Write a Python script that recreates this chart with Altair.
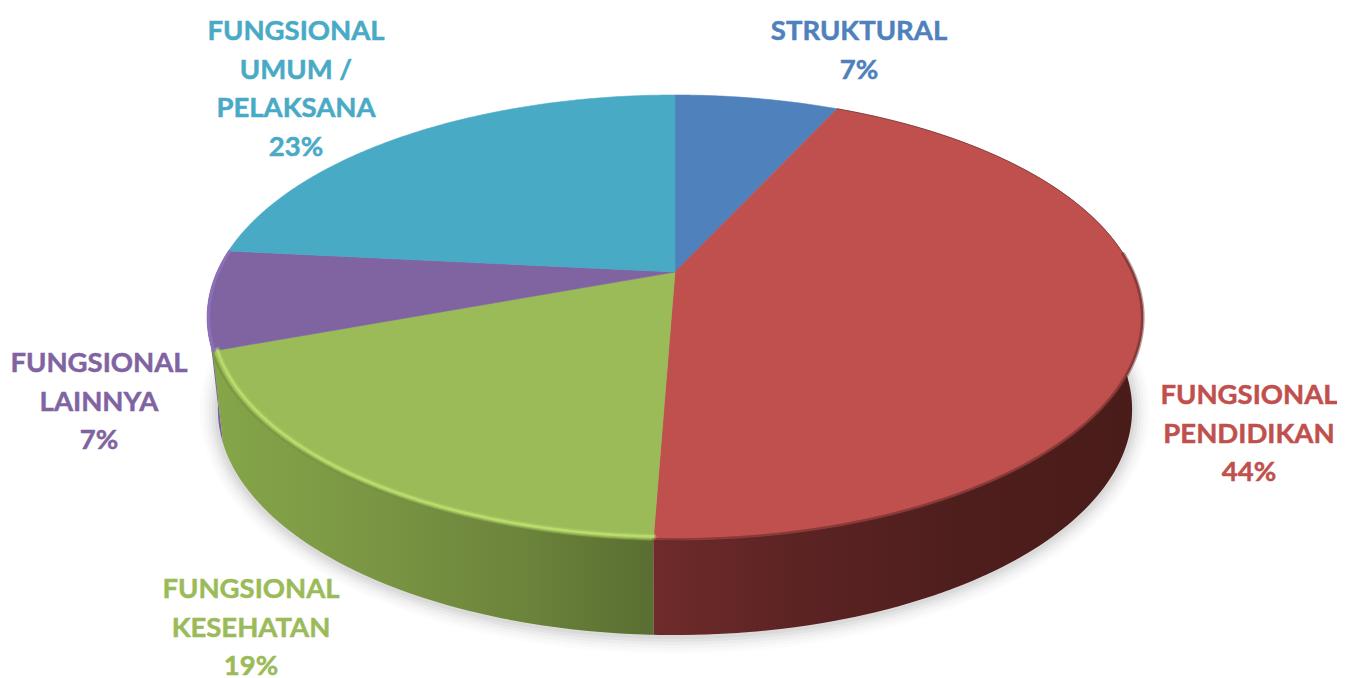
import math
import altair as alt
import pandas as pd

# ---- values
categories = ["STRUKTURAL", "FUNGSIONAL\nPENDIDIKAN", "FUNGSIONAL\nKESEHATAN",
              "FUNGSIONAL\nLAINNYA", "FUNGSIONAL\nUMUM /\nPELAKSANA"]
percent_labels = [7, 44, 19, 7, 23]
drawn_shares = [6.9, 43.7, 18.8, 7.2, 23.4]
top_colors = ["#4f81bd", "#bf504d", "#9bbb59", "#8064a2", "#49aac5"]

# ---- layout of the tilted disc (pixels inside the plot area)
W, H = 1329, 669
CX, APEX_Y = 667.0, 264.0
K, A, B = 0.2045, 213.2, 458.0
ELL_CY, ELL_RY = 309.0, 222.0
LOW_CY, LOW_RY, LOW_SX = 401.0, 225.0, 0.977
label_x = [851, 1241, 243, 91, 288]
label_y = [10, 374, 568, 342, 10]
FONT = "Lato"
FONT_SIZE = 27.5
LINE_H = 38.7


def top_pt(theta, r=1.0):
    X, Y = r * math.sin(theta), r * math.cos(theta)
    w = 1 + K * Y
    return [CX + B * X / w, APEX_Y - A * Y / w]


def low_pt(theta):
    x, y = top_pt(theta)
    return [CX + LOW_SX * (x - CX), LOW_CY + (y - ELL_CY) * LOW_RY / ELL_RY]


def arc(a0, a1, fn, **kw):
    n = max(2, int(abs(a1 - a0) / math.radians(0.5)))
    return [fn(a0 + (a1 - a0) * i / n, **kw) for i in range(n + 1)]


def feature(geom_type, coords, name=""):
    return {"type": "Feature", "properties": {"name": name},
            "geometry": {"type": geom_type, "coordinates": coords}}


def inline(features):
    return alt.InlineData(values={"type": "FeatureCollection", "features": features},
                          format=alt.DataFormat(property="features", type="json"))


proj = alt.Projection(type="identity", scale=1, translate=[0, 0])

edges = [0.0]
for s in drawn_shares:
    edges.append(edges[-1] + s / 100 * 2 * math.pi)


def shape(features, **mark):
    return alt.Chart(inline(features)).mark_geoshape(**mark).properties(projection=proj)


def wall(i):
    # swept band between the top rim and the lower rim, so the silhouette is a straight tangent
    a0, a1 = edges[i], edges[i + 1]
    tops, lows = arc(a0, a1, top_pt), arc(a0, a1, low_pt)
    quads = []
    for j in range(len(tops) - 1):
        k = min(j + 3, len(tops) - 1)
        quads.append([[tops[j], tops[k], lows[k], lows[j], tops[j]]])
    return feature("MultiPolygon", quads, categories[i])


def grad(stops):
    return alt.LinearGradient(gradient="linear", x1=0, x2=1, y1=0, y2=0,
                              stops=[alt.GradientStop(offset=o, color=c) for o, c in stops])


layers = []

# soft shadow under the disc
for d, op in [(18, 0.012), (15, 0.016), (12, 0.02), (9, 0.028), (6, 0.035), (3, 0.04)]:
    ring = []
    for i in range(361):
        t = math.radians(i)
        ring.append([CX + (LOW_SX * 468 + d) * math.sin(t),
                     LOW_CY + 2 + (LOW_RY + d) * math.cos(t)])
    layers.append(shape([feature("Polygon", [ring])], fill="#000000", fillOpacity=op, strokeWidth=0))

# side walls
layers.append(shape([wall(3)], fill="#7a5ea2", strokeWidth=0))
layers.append(shape([wall(2)], strokeWidth=0, fill=grad(
    [(0, "#85a648"), (0.35, "#7b9644"), (0.7, "#6c843b"), (1, "#596e31")])))
layers.append(shape([wall(1)], strokeWidth=0, fill=grad(
    [(0, "#6f2b2b"), (0.3, "#5c2323"), (0.65, "#4d1e1c"), (1, "#4a1c19")])))

# top slices
slices = []
for i in range(len(categories)):
    ring = [[CX, APEX_Y]] + arc(edges[i], edges[i + 1], top_pt) + [[CX, APEX_Y]]
    slices.append(feature("Polygon", [ring], categories[i]))
layers.append(
    alt.Chart(inline(slices)).mark_geoshape(strokeWidth=0.6).encode(
        color=alt.Color("properties.name:N",
                        scale=alt.Scale(domain=categories, range=top_colors), legend=None),
        stroke=alt.Stroke("properties.name:N",
                          scale=alt.Scale(domain=categories, range=top_colors), legend=None),
    ).properties(projection=proj)
)


def rim(i, r, color, width, opacity=1.0, start=None, end=None):
    a0 = edges[i] if start is None else start
    a1 = edges[i + 1] if end is None else end
    return shape([feature("LineString", arc(a0, a1, top_pt, r=r))], filled=False,
                 stroke=color, strokeWidth=width, strokeOpacity=opacity, strokeCap="round")


# bevel along the front rim
layers += [
    rim(1, 1.0, "#5a2826", 3.5, 0.45, start=math.radians(85)),
    rim(1, 0.998, "#7a3230", 2.5, 0.35, start=math.radians(85)),
    rim(1, 1.0, "#6a3a3a", 1.0, 0.6, end=math.radians(85)),
    rim(2, 1.0, "#6f8a3c", 2.5, 0.6),
    rim(2, 0.990, "#aecf66", 6, 0.4),
    rim(2, 0.990, "#bde070", 2.6, 0.85),
    rim(3, 0.997, "#9072bd", 3, 0.8),
]

# labels
labels = pd.DataFrame({
    "text": [f"{c}\n{p}%" for c, p in zip(categories, percent_labels)],
    "lx": label_x,
    "ly": label_y,
    "cat": categories,
})
text_scale = alt.Scale(domain=categories, range=top_colors)
layers.append(
    alt.Chart(labels).mark_text(font=FONT, fontWeight="bold", fontSize=FONT_SIZE, align="center",
                                baseline="top", lineBreak="\n", lineHeight=LINE_H,
                                strokeWidth=0.5).encode(
        x=alt.X("lx:Q", scale=None),
        y=alt.Y("ly:Q", scale=None),
        text="text:N",
        color=alt.Color("cat:N", scale=text_scale, legend=None),
        stroke=alt.Stroke("cat:N", scale=text_scale, legend=None),
    )
)

chart = alt.layer(*layers).resolve_scale(color="shared").properties(
    width=W, height=H, padding=0, autosize=alt.AutoSizeParams(type="none"),
    background="#ffffff",
).configure_view(strokeWidth=0)

chart.save("out.html", embed_options={"renderer": "svg", "actions": False})
